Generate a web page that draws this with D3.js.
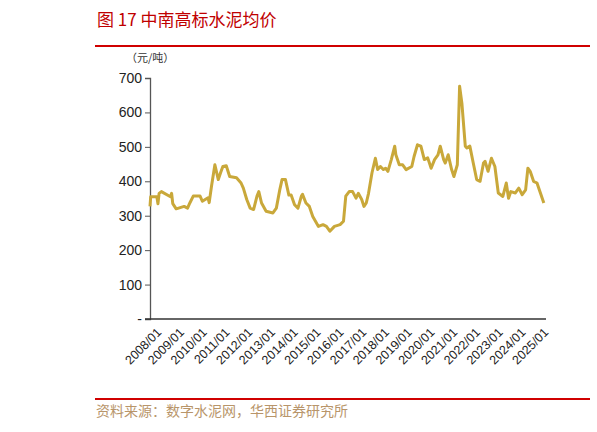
<!DOCTYPE html>
<html><head><meta charset="utf-8">
<script src="https://cdn.jsdelivr.net/npm/d3@7"></script>
<style>body{margin:0;background:#fff}svg{display:block}</style>
</head><body><svg id="c" width="597" height="432"></svg>
<script>
const years=[2008.0,2008.03,2008.3,2008.35,2008.4,2008.5,2008.9,2008.95,2009.0,2009.15,2009.5,2009.65,2009.75,2009.9,2010.2,2010.3,2010.55,2010.6,2010.7,2010.85,2011.0,2011.1,2011.2,2011.35,2011.5,2011.8,2012.0,2012.1,2012.25,2012.4,2012.55,2012.7,2012.78,2012.9,2013.1,2013.4,2013.55,2013.7,2013.8,2013.95,2014.1,2014.2,2014.35,2014.5,2014.65,2014.7,2014.85,2015.0,2015.15,2015.4,2015.6,2015.75,2015.9,2016.1,2016.35,2016.5,2016.6,2016.75,2016.9,2017.05,2017.15,2017.3,2017.4,2017.5,2017.6,2017.75,2017.9,2018.0,2018.12,2018.25,2018.35,2018.45,2018.6,2018.75,2018.8,2018.95,2019.1,2019.25,2019.5,2019.6,2019.75,2019.9,2020.05,2020.2,2020.35,2020.5,2020.65,2020.75,2020.9,2020.97,2021.1,2021.25,2021.35,2021.5,2021.6,2021.7,2021.85,2021.92,2022.05,2022.2,2022.35,2022.5,2022.65,2022.72,2022.85,2023.0,2023.15,2023.3,2023.5,2023.65,2023.75,2023.85,2024.05,2024.2,2024.35,2024.5,2024.6,2024.7,2024.85,2025.0,2025.15,2025.3];
const prices=[327,355,355,335,365,370,355,365,335,320,327,322,337,357,357,342,352,338,385,448,405,425,443,445,414,410,395,380,347,322,318,357,370,337,313,308,322,375,405,405,360,360,332,322,357,362,337,327,298,269,274,269,255,269,274,284,357,370,370,351,365,347,327,337,365,424,467,434,443,434,438,429,463,502,477,448,448,434,443,472,506,502,463,468,438,463,477,502,463,453,477,434,414,448,676,627,502,497,502,453,405,400,453,458,429,467,443,366,356,395,351,370,366,380,361,375,438,429,400,395,366,337];
const yTicks=[0,100,200,300,400,500,600,700];
const xTickLabels=["2008/01","2009/01","2010/01","2011/01","2012/01","2013/01","2014/01","2015/01","2016/01","2017/01","2018/01","2019/01","2020/01","2021/01","2022/01","2023/01","2024/01","2025/01"];

const svg=d3.select("#c");
const x=d3.scaleLinear().domain([2008,2025]).range([150,537]);
const y=d3.scaleLinear().domain([0,700]).range([319,78]);

svg.append("text").attr("x",97).attr("y",26).attr("fill","#C00000")
 .attr("font-family","Noto Sans CJK SC").attr("font-size",17).text("图 17 中南高标水泥均价");
svg.append("line").attr("x1",95).attr("x2",590).attr("y1",46).attr("y2",46).attr("stroke","#D00000").attr("stroke-width",2);
svg.append("line").attr("x1",95).attr("x2",590).attr("y1",399).attr("y2",399).attr("stroke","#D00000").attr("stroke-width",2);
svg.append("text").attr("x",126).attr("y",62).attr("font-family","Noto Sans CJK SC").attr("font-size",11).attr("fill","#333").text("（元/吨）");
svg.append("text").attr("x",96).attr("y",416).attr("font-family","Noto Sans CJK SC").attr("font-size",14).attr("fill","#B8956A").text("资料来源：数字水泥网，华西证券研究所");

const ya=svg.append("g").attr("transform","translate(150,0)")
 .call(d3.axisLeft(y).tickValues(yTicks).tickSize(5).tickFormat(d=>d===0?"-":d));
ya.select(".domain").attr("stroke","#555").attr("stroke-width",1.3);
ya.selectAll("text").attr("font-family","Liberation Sans, Arial").attr("font-size",14).attr("fill","#222");
ya.selectAll(".tick line").attr("stroke","#555");
ya.selectAll(".tick").filter(d=>d===0).select("line").remove();

svg.append("line").attr("x1",145).attr("x2",546).attr("y1",y(0)).attr("y2",y(0)).attr("stroke","#333").attr("stroke-width",1.3);
xTickLabels.forEach((t,i)=>{
  const px=x(2008+i)+6;
  svg.append("text").attr("transform",`translate(${px},${y(0)+8}) rotate(-45)`)
   .attr("text-anchor","end").attr("dy","0.7em").attr("font-family","Liberation Sans, Arial").attr("font-size",12.5).attr("fill","#222").text(t);
});

const line=d3.line().x((d,i)=>x(years[i])).y(d=>y(d)).curve(d3.curveLinear);
svg.append("path").datum(prices).attr("d",line).attr("fill","none").attr("stroke","#C9A83A").attr("stroke-width",3).attr("stroke-linejoin","round");
</script></body></html>
